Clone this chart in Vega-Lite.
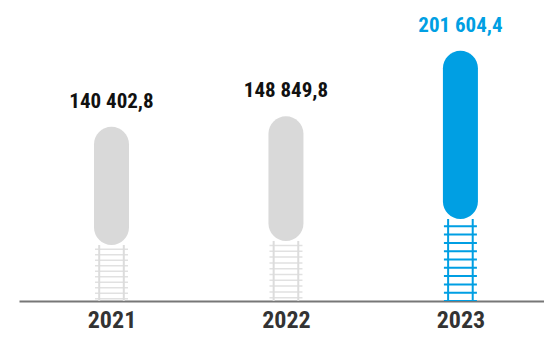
{
  "$schema": "https://vega.github.io/schema/vega-lite/v6.json",
  "width": 525,
  "height": 301,
  "autosize": "none",
  "padding": {"left": 19, "top": 0, "right": 0, "bottom": 37},
  "background": "#ffffff",
  "config": {"view": {"stroke": null}},
  "data": {
    "values": [
      {"year": 2021, "value": 140402.8, "base": 45100, "label": "140 402,8"},
      {"year": 2022, "value": 148849.8, "base": 48400, "label": "148 849,8"},
      {"year": 2023, "value": 201604.4, "base": 66100, "label": "201 604,4"}
    ]
  },
  "encoding": {
    "x": {
      "field": "year",
      "type": "quantitative",
      "scale": {"domain": [2020.4985, 2023.4504], "nice": false, "zero": false},
      "axis": {
        "values": [2021, 2022, 2023],
        "format": "d",
        "title": null,
        "grid": false,
        "ticks": false,
        "domain": true,
        "domainColor": "#777777",
        "domainWidth": 2,
        "labelFont": "'Roboto Condensed', 'DejaVu Sans Condensed', Roboto, sans-serif",
        "labelFontWeight": "bold",
        "labelFontSize": 24,
        "labelColor": "#333333",
        "labelPadding": 7,
        "labelFlush": false
      }
    }
  },
  "layer": [
    {
      "mark": {"type": "rule", "strokeWidth": 33, "strokeCap": "butt", "strokeDashOffset": 2},
      "encoding": {
        "y": {"field": "base", "type": "quantitative", "scale": {"domain": [0, 242600], "nice": false}, "axis": null},
        "y2": {"datum": 0},
        "color": {"condition": {"test": "datum.year == 2023", "value": "#009fe3"}, "value": "#e1e1e1"},
        "strokeDash": {
          "condition": [
            {"test": "datum.year == 2023", "value": [2, 6.3]},
            {"test": "datum.year == 2022", "value": [1.5, 4.3]}
          ],
          "value": [1.4, 4.1]
        }
      }
    },
    {
      "mark": {"type": "rule", "xOffset": -12.3, "strokeWidth": 2},
      "encoding": {
        "y": {"field": "base", "type": "quantitative"},
        "y2": {"datum": 0},
        "color": {"condition": {"test": "datum.year == 2023", "value": "#009fe3"}, "value": "#dcdcdc"}
      }
    },
    {
      "mark": {"type": "rule", "xOffset": 12.3, "strokeWidth": 2},
      "encoding": {
        "y": {"field": "base", "type": "quantitative"},
        "y2": {"datum": 0},
        "color": {"condition": {"test": "datum.year == 2023", "value": "#009fe3"}, "value": "#dcdcdc"}
      }
    },
    {
      "mark": {"type": "bar", "width": 35, "cornerRadius": 17.5},
      "encoding": {
        "y": {"field": "value", "type": "quantitative"},
        "y2": {"field": "base"},
        "color": {"condition": {"test": "datum.year == 2023", "value": "#009fe3"}, "value": "#d9d9d9"}
      }
    },
    {
      "mark": {
        "type": "text",
        "font": "'Roboto Condensed', 'DejaVu Sans Condensed', Roboto, sans-serif",
        "fontWeight": "bold",
        "fontSize": 21,
        "baseline": "alphabetic",
        "align": "center",
        "dy": -19
      },
      "encoding": {
        "y": {"field": "value", "type": "quantitative"},
        "text": {"field": "label"},
        "color": {"condition": {"test": "datum.year == 2023", "value": "#009fe3"}, "value": "#111111"}
      }
    }
  ]
}
